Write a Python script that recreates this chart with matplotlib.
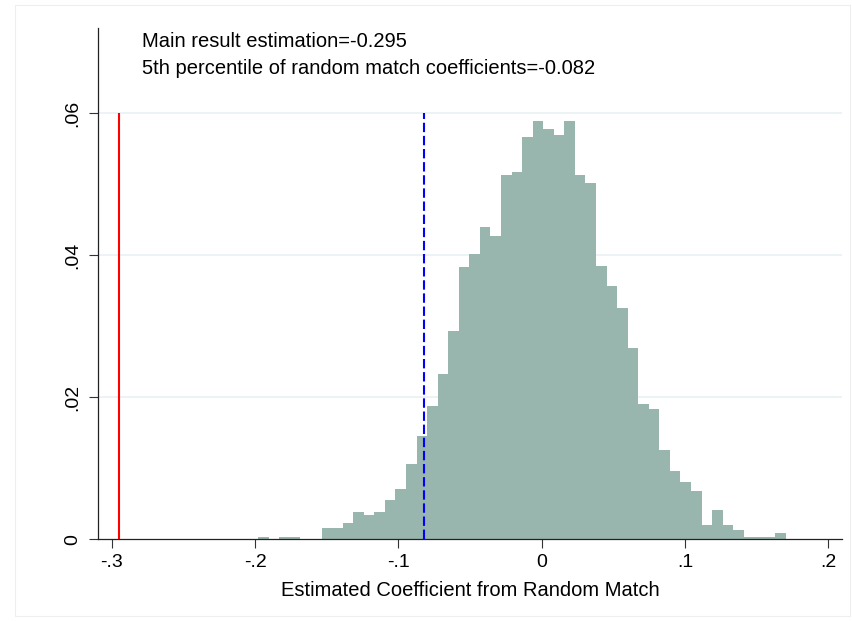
import matplotlib
matplotlib.use("Agg")
import matplotlib.pyplot as plt
import numpy as np
from matplotlib.patches import Rectangle

plt.rcParams["font.family"] = ["Liberation Sans", "DejaVu Sans"]

# histogram of random-match coefficients (fraction per bin), 50 bins
bin_start = -0.1978
bin_width = 0.007366
fractions = [
    0.00028, 0.0, 0.00028, 0.00028, 0.0, 0.0, 0.00155, 0.00155, 0.00234, 0.00385,
    0.00338, 0.00385, 0.00554, 0.00709, 0.0106, 0.01459, 0.01882, 0.02328, 0.02938, 0.03839,
    0.04014, 0.04394, 0.04268, 0.05135, 0.05173, 0.05666, 0.05892, 0.05775, 0.05694, 0.05892,
    0.05135, 0.05018, 0.03849, 0.03568, 0.03262, 0.0269, 0.01906, 0.01831, 0.01262, 0.00958,
    0.00807, 0.0068, 0.00206, 0.00408, 0.00206, 0.00131, 0.00028, 0.00028, 0.00028, 0.00085,
]

main_estimate = -0.295
pct5 = -0.082
line_top = 0.06

xticks = [-0.3, -0.2, -0.1, 0.0, 0.1, 0.2]
xtick_labels = ["-.3", "-.2", "-.1", "0", ".1", ".2"]
yticks = [0.0, 0.02, 0.04, 0.06]
ytick_labels = ["0", ".02", ".04", ".06"]

note_lines = [
    "Main result estimation=-0.295",
    "5th percentile of random match coefficients=-0.082",
]

fig = plt.figure(figsize=(8.52, 6.21), dpi=100)
ax = fig.add_axes([0.1154, 0.1316, 0.8725, 0.8229])

lefts = bin_start + np.arange(len(fractions)) * bin_width
ax.bar(lefts, fractions, width=bin_width, align="edge", color="#98B5AE",
       linewidth=0, zorder=2)

ax.vlines(main_estimate, 0, line_top, color="red", lw=1.5, zorder=3)
ax.vlines(pct5, 0, line_top, color="blue", lw=1.5, linestyles=(0, (4.5, 1.8)), zorder=3)

for g in yticks[1:]:
    ax.axhline(g, color="#EAF2F3", lw=1.3, zorder=1)

ax.set_xlim(-0.3094, 0.2094)
ax.set_ylim(0, 0.07197)
ax.set_xticks(xticks)
ax.set_xticklabels(xtick_labels)
ax.set_yticks(yticks)
ax.set_yticklabels(ytick_labels, rotation=90, va="center")

for side in ["top", "right"]:
    ax.spines[side].set_visible(False)
for side in ["left", "bottom"]:
    ax.spines[side].set_color("#222222")
    ax.spines[side].set_linewidth(0.9)

ax.tick_params(axis="both", direction="out", length=6.5, width=0.8,
               color="#333333", labelsize=14)
ax.tick_params(axis="x", pad=4)
ax.tick_params(axis="y", pad=6)

ax.set_xlabel("Estimated Coefficient from Random Match", fontsize=14.5, labelpad=7)

ax.text(-0.2791, 0.06938, note_lines[0], fontsize=14.5, va="baseline", ha="left")
ax.text(-0.2791, 0.06553, note_lines[1], fontsize=14.5, va="baseline", ha="left")

fig.patches.append(Rectangle((15 / 852, 5 / 621), 835 / 852, 611 / 621,
                             transform=fig.transFigure, fill=False,
                             edgecolor="#EEEEEE", lw=0.8))

fig.savefig("out.png", dpi=100)
